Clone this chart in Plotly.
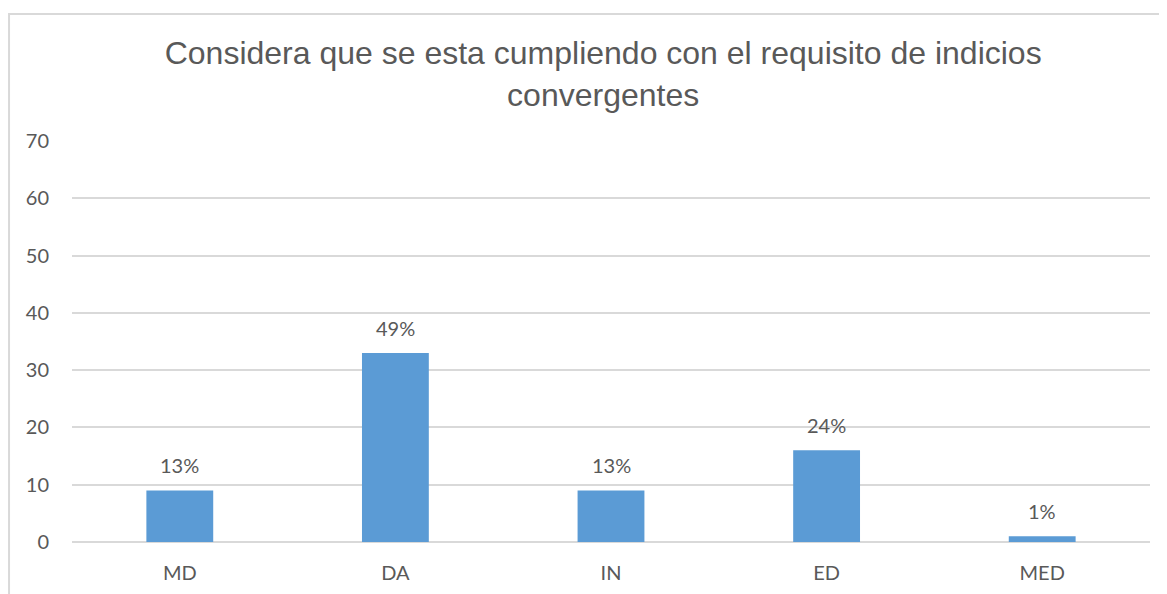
import plotly.graph_objects as go

categories = ["MD", "DA", "IN", "ED", "MED"]
values = [9, 33, 9, 16, 1]
pct_labels = ["13%", "49%", "13%", "24%", "1%"]

title_text = "Considera que se esta cumpliendo con el requisito de indicios<br>convergentes"
text_color = "#595959"
bar_color = "#5B9BD5"
grid_color = "#D9D9D9"

fig = go.Figure(go.Bar(x=categories, y=values, marker=dict(color=bar_color, line=dict(width=0)),
                       width=0.31, hoverinfo="x+y"))

# percentage labels above each bar
for cat, val, lab in zip(categories, values, pct_labels):
    fig.add_annotation(x=cat, y=val, text=lab, showarrow=False, yanchor="bottom", yshift=11,
                       font=dict(family="Lato", size=20, color=text_color))

# light frame around the chart
fig.add_shape(type="rect", xref="paper", yref="paper", x0=-0.0584, x1=1.05, y0=-0.2, y1=1.3167,
              line=dict(color="#D9D9D9", width=2), fillcolor="rgba(0,0,0,0)", layer="below")

fig.update_layout(
    width=1167, height=594,
    margin=dict(l=64, r=25, t=133, b=60),
    paper_bgcolor="white", plot_bgcolor="white",
    showlegend=False,
    title=dict(text=title_text, x=0.51, xanchor="center", y=0.905, yanchor="top", yref="container",
               font=dict(family="Liberation Sans", size=32, color=text_color)),
    xaxis=dict(showline=False, ticks="", showgrid=False, ticklabelstandoff=17,
               tickfont=dict(family="Lato", size=20, color=text_color)),
    yaxis=dict(range=[0, 70], dtick=10, showgrid=True, gridcolor=grid_color, gridwidth=2,
               zeroline=True, zerolinecolor=grid_color, zerolinewidth=2, showline=False,
               ticklabelstandoff=22, tickfont=dict(family="Lato", size=20, color=text_color)),
)

fig.write_html("out.html")
